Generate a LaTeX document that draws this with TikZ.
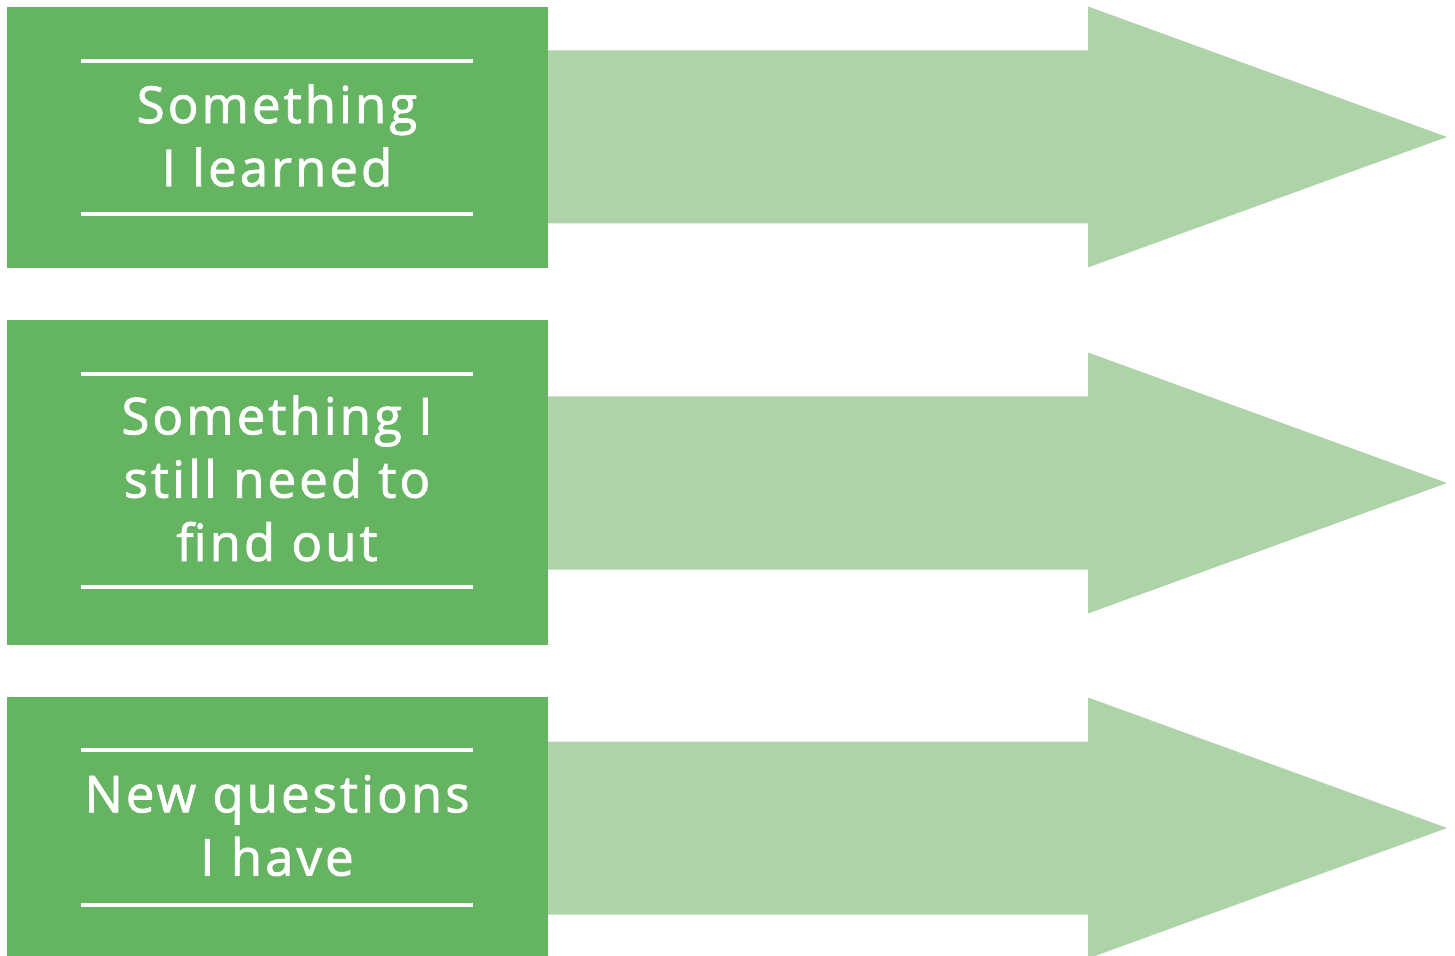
\documentclass[tikz,border=0pt]{standalone}
\usepackage{fontspec}
\newfontfamily\boxfont{Open Sans}[LetterSpace=6,FakeBold=1.6]
\definecolor{boxgreen}{RGB}{101,180,97}
\definecolor{arrowgreen}{RGB}{174,211,168}
\begin{document}
\begin{tikzpicture}[x=0.02cm,y=-0.02cm]
			\tikzset{rule/.style={white,line width=0.08cm},
				caption/.style={text=white,align=center,font=\boxfont\fontsize{29}{36}\selectfont}}
			\useasboundingbox (0,0) rectangle (1455,956);
			\foreach \n/\top/\bot/\la/\lb/\mid/\txt in{1/7/268/61/214/137/{Something\\I learned},
				2/320/645/374/587/483/{Something I\\still need to\\find out},
				3/697/956/750/905/828/{New questions\\I have}}{
				\fill[arrowgreen](548,{\mid-86.5})--(1088,{\mid-86.5})--(1088,{\mid-130.5})--(1447,\mid)--(1088,{\mid+130.5})--(1088,{\mid+86.5})--(548,{\mid+86.5})--cycle;
				\fill[boxgreen](7,\top)rectangle(548,\bot);
				\draw[rule](81,\la)--(473,\la) (81,\lb)--(473,\lb);
				\node[caption](txt\n)at(277,{(\la+\lb)/2-2}){\txt};
			}
	\end{tikzpicture}
\end{document}
